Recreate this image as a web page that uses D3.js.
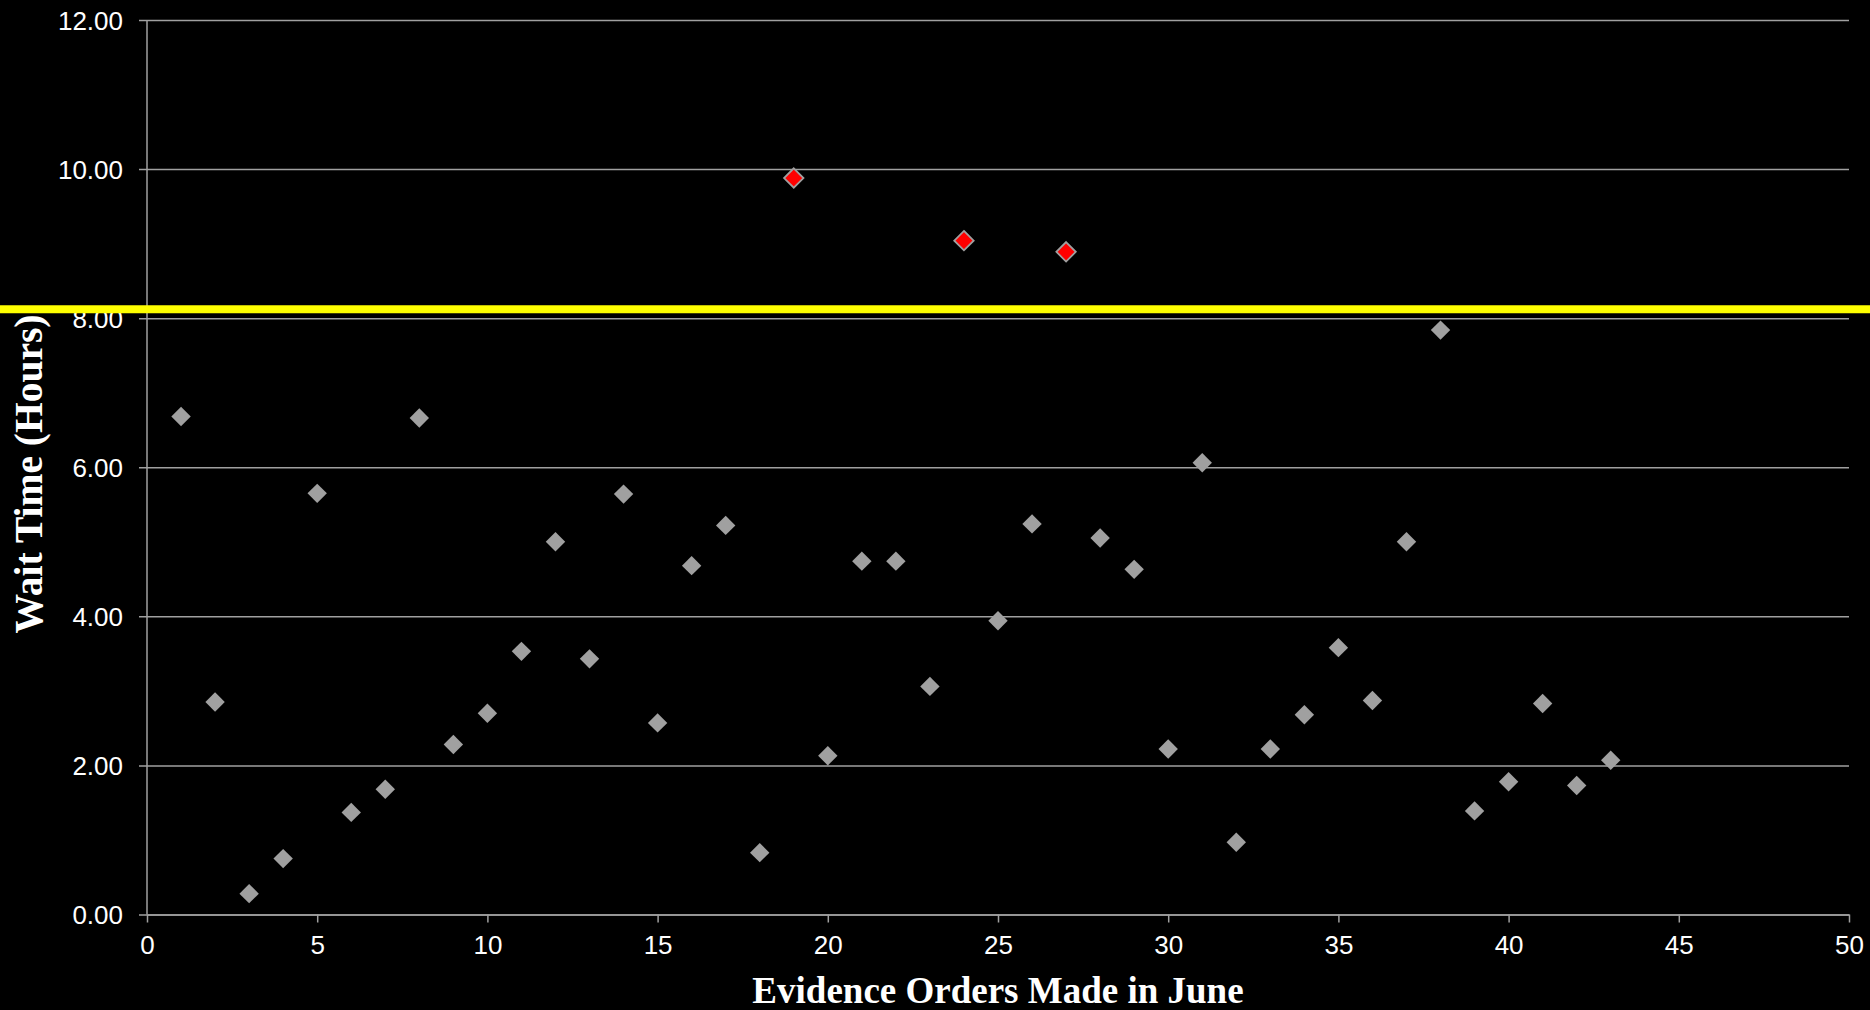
<!DOCTYPE html>
<html>
<head>
<meta charset="utf-8">
<script src="https://cdn.jsdelivr.net/npm/d3@7"></script>
<style>
  html, body { margin: 0; padding: 0; background: #000; }
  svg { display: block; }
</style>
</head>
<body>
<svg id="chart" width="1870" height="1010"></svg>
<script>
// Evidence orders placed in June (order number) and the wait time in hours
const orders = d3.range(1, 44);
const waitHours = [
  6.68, 2.85, 0.28, 0.75, 5.65, 1.37, 1.68, 6.66, 2.28, 2.70,
  3.53, 5.00, 3.43, 5.64, 2.57, 4.68, 5.22, 0.83, 9.88, 2.13,
  4.74, 4.74, 3.06, 9.04, 3.94, 5.24, 8.89, 5.05, 4.63, 2.22,
  6.06, 0.97, 2.22, 2.68, 3.58, 2.87, 5.00, 7.84, 1.39, 1.78,
  2.83, 1.73, 2.07
];
// Target wait time: orders above it are flagged in red
const thresholdHours = 8.12;

const xTicks = [0, 5, 10, 15, 20, 25, 30, 35, 40, 45, 50];
const yTicks = [0, 2, 4, 6, 8, 10, 12];

const xTitle = "Evidence Orders Made in June";
const yTitle = "Wait Time (Hours)";

const points = orders.map((o, i) => ({ order: o, hours: waitHours[i] }));

const W = 1870, H = 1010;
const plot = { left: 147, right: 1849, top: 20, bottom: 914.5 };
const gridColor = "#a0a0a0";
const labelFont = "Arial, 'Liberation Sans', sans-serif";
const titleFont = "'Times New Roman', 'Liberation Serif', serif";

const svg = d3.select("#chart");
svg.append("rect").attr("width", W).attr("height", H).attr("fill", "#000");

const x = d3.scaleLinear().domain([0, 50]).range([plot.left, plot.right]);
const y = d3.scaleLinear().domain([0, 12]).range([plot.bottom, plot.top]);

// Horizontal gridlines with short ticks left of the axis
const yAxis = d3.axisLeft(y)
  .tickValues(yTicks)
  .tickFormat(d3.format(".2f"))
  .tickSizeInner(-(plot.right - plot.left))
  .tickSizeOuter(0)
  .tickPadding(0);

const gy = svg.append("g")
  .attr("transform", `translate(${plot.left},0)`)
  .call(yAxis);
gy.select(".domain").remove();
gy.selectAll(".tick line")
  .attr("x1", -8)
  .attr("stroke", gridColor)
  .attr("stroke-width", 1.5);
gy.selectAll(".tick text")
  .attr("x", -24)
  .attr("dy", "0.36em")
  .attr("fill", "#fff")
  .attr("font-family", labelFont)
  .attr("font-size", 26);

// Vertical axis line
svg.append("line")
  .attr("x1", plot.left).attr("x2", plot.left)
  .attr("y1", plot.top).attr("y2", plot.bottom)
  .attr("stroke", gridColor).attr("stroke-width", 1.5);

// Bottom axis with ticks every 5 orders
const xAxis = d3.axisBottom(x)
  .tickValues(xTicks)
  .tickFormat(d3.format("d"))
  .tickSizeInner(8)
  .tickSizeOuter(0)
  .tickPadding(13);

const gx = svg.append("g")
  .attr("transform", `translate(0,${plot.bottom})`)
  .call(xAxis);
gx.select(".domain").attr("stroke", gridColor).attr("stroke-width", 1.5);
gx.selectAll(".tick line").attr("stroke", gridColor).attr("stroke-width", 1.5);
gx.selectAll(".tick text")
  .attr("fill", "#fff")
  .attr("font-family", labelFont)
  .attr("font-size", 26);

// Diamond marker
const diamond = {
  draw(context, size) {
    const r = Math.sqrt(size / 2);
    context.moveTo(0, -r);
    context.lineTo(r, 0);
    context.lineTo(0, r);
    context.lineTo(-r, 0);
    context.closePath();
  }
};
const markerPath = d3.symbol().type(diamond).size(188);

svg.append("g")
  .selectAll("path")
  .data(points)
  .join("path")
  .attr("d", markerPath)
  .attr("transform", d => `translate(${x(d.order)},${y(d.hours)})`)
  .attr("fill", d => d.hours > thresholdHours ? "#ff0000" : "#a0a0a0")
  .attr("stroke", d => d.hours > thresholdHours ? "#a0a0a0" : "none")
  .attr("stroke-width", 1.8);

// Threshold line across the full width
svg.append("line")
  .attr("x1", 0).attr("x2", W)
  .attr("y1", y(thresholdHours)).attr("y2", y(thresholdHours))
  .attr("stroke", "#ffff00")
  .attr("stroke-width", 8);

// Axis titles
svg.append("text")
  .attr("x", (plot.left + plot.right) / 2)
  .attr("y", 1003)
  .attr("text-anchor", "middle")
  .attr("fill", "#fff")
  .attr("font-family", titleFont)
  .attr("font-weight", "bold")
  .attr("font-size", 37)
  .text(xTitle);

svg.append("text")
  .attr("transform", "translate(42,474) rotate(-90)")
  .attr("text-anchor", "middle")
  .attr("fill", "#fff")
  .attr("font-family", titleFont)
  .attr("font-weight", "bold")
  .attr("font-size", 39.5)
  .text(yTitle);
</script>
</body>
</html>
